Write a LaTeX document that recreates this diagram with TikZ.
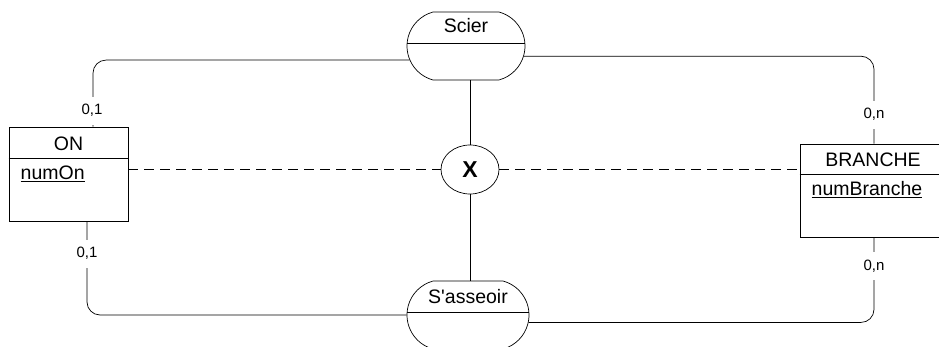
\documentclass[tikz,border=0pt]{standalone}
\usepackage{fontspec}
\setmainfont{Liberation Sans}
\usetikzlibrary{shapes.geometric,shapes.misc}

\begin{document}
\begin{tikzpicture}[x=1pt,y=-1pt,line width=0.7pt]
\tikzstyle{entite}=[draw,rectangle,inner sep=0pt]
\tikzstyle{asso}=[draw,rounded rectangle,rounded rectangle arc length=150,inner sep=0pt,minimum height=68pt]
\tikzstyle{nom}=[font=\fontsize{19.5}{22}\selectfont]
\tikzstyle{card}=[fill=white,inner xsep=1pt,inner ysep=8pt,anchor=base,font=\fontsize{15}{17}\selectfont]
\tikzstyle{lien}=[rounded corners=13pt]
\tikzstyle{pointille}=[dash pattern=on 10pt off 6pt]
\useasboundingbox (0,0) rectangle (939,347);
% entites
\node[entite,minimum width=119pt,minimum height=94pt] (on) at (68.5,174) {};
\draw ([yshift=-32pt]on.north west) -- ([yshift=-32pt]on.north east);
\node[nom,anchor=base] (ontitre) at (68.5,151) {ON};
\node[nom,anchor=base west] (onid) at (17,180) {\underline{numOn}};
\node[entite,minimum width=146pt,minimum height=93pt] (branche) at (873,190.5) {};
\draw ([yshift=-31pt]branche.north west) -- ([yshift=-31pt]branche.north east);
\node[nom,anchor=base] (branchetitre) at (873,167) {BRANCHE};
\node[nom,anchor=base west] (brancheid) at (808,196) {\underline{numBranche}};
% associations
\node[asso,minimum width=118pt] (scier) at (466,46) {};
\draw (scier.west |- 0,43) -- (scier.east |- 0,43);
\node[nom,anchor=base] (sciertxt) at (466,33) {Scier};
\node[asso,minimum width=122pt] (asseoir) at (468,315) {};
\draw (asseoir.west |- 0,312) -- (asseoir.east |- 0,312);
\node[nom,anchor=base] (asseoirtxt) at (468,303) {S\textquotesingle{}asseoir};
% contrainte
\node[draw,ellipse,minimum width=58pt,minimum height=49pt,inner sep=0pt,font=\fontsize{23}{26}\selectfont\bfseries] (x) at (470,169.5) {X};
\draw (x.north) -- (x.north |- scier.south);
\draw (x.south) -- (x.south |- asseoir.north);
\draw[pointille] (x.west -| on.east) -- (x.west);
\draw[pointille] (x.east) -- (x.east -| branche.west);
% liens
\draw[lien] ([xshift=24.5pt]on.north) |- (scier.194);
\draw[lien] (scier.350) -| ([xshift=1pt]branche.north);
\draw[lien] ([xshift=18.5pt]on.south) |- (asseoir.west);
\draw[lien] ([xshift=1pt]branche.south) |- (asseoir.353);
% cardinalites
\node[card] (c1) at (92,115) {0,1};
\node[card] (c2) at (87,258) {0,1};
\node[card] (c3) at (874,119) {0,n};
\node[card] (c4) at (874,270) {0,n};
\end{tikzpicture}
\end{document}
